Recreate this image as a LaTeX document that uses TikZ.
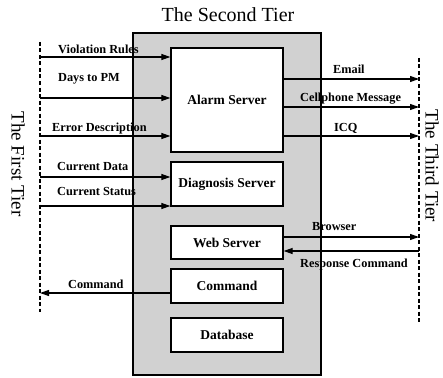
\documentclass[tikz,border=0pt]{standalone}
\usepackage{fontspec}
\setmainfont{Liberation Serif}
\usetikzlibrary{arrows.meta}
\begin{document}
\begin{tikzpicture}[x=1pt,y=-1pt,
  tierbox/.style={draw, line width=1.2pt, fill=black!18, inner sep=0pt},
  server/.style={draw, line width=1.3pt, fill=white, inner sep=0pt,
    minimum width=112pt, font=\fontsize{13.5}{15}\selectfont\bfseries},
  flow/.style={line width=1.1pt, -{Triangle[length=9pt,width=6pt]}},
  lbl/.style={font=\fontsize{12.3}{13}\selectfont\bfseries, anchor=west, inner sep=0pt},
  tierline/.style={line width=1.4pt, dash pattern=on 4pt off 2.5pt},
  tiername/.style={font=\fontsize{20}{22}\selectfont, inner sep=0pt},
  sidename/.style={font=\fontsize{19}{21}\selectfont, inner sep=0pt, rotate=-90}]
\useasboundingbox (0,0) rectangle (443,377);

% middle tier and its servers
\node[tierbox, minimum width=188pt, minimum height=342pt] (tier2) at (227,204) {};
\node[server, minimum height=104pt] (alarm) at (227,100) {Alarm Server};
\node[server, minimum height=44pt] (diag) at (227,184) {Diagnosis Server};
\node[server, minimum height=33pt] (web) at (227,242.5) {Web Server};
\node[server, minimum height=34pt] (cmd) at (227,286) {Command};
\node[server, minimum height=34pt] (db) at (227,335) {Database};

% tier names
\node[tiername] (t2) at (228,15) {The Second Tier};
\node[sidename] (t1) at (18,164) {The First Tier};
\node[sidename] (t3) at (432,166) {The Third Tier};

% tier boundaries
\coordinate (l1) at (40,42);
\coordinate (l2) at (40,312);
\coordinate (r1) at (419,58);
\coordinate (r2) at (419,323);
\draw[tierline] (l1) -- (l2);
\draw[tierline] (r1) -- (r2);

% first tier -> servers
\coordinate (vr) at (40,57);
\coordinate (dp) at (40,98);
\coordinate (ed) at (40,136);
\coordinate (cd) at (40,177);
\coordinate (cs) at (40,206);
\draw[flow] (vr) -- (vr -| alarm.west);
\draw[flow] (dp) -- (dp -| alarm.west);
\draw[flow] (ed) -- (ed -| alarm.west);
\draw[flow] (cd) -- (cd -| diag.west);
\draw[flow] (cs) -- (cs -| diag.west);
\node[lbl] (vrl) at (58,49) {Violation Rules};
\node[lbl] (dpl) at (58,79) {Days to PM};
\node[lbl] (edl) at (52,129) {Error Description};
\node[lbl] (cdl) at (57,167) {Current Data};
\node[lbl] (csl) at (57,192) {Current Status};

% servers -> third tier
\coordinate (em) at (419,79);
\coordinate (cm) at (419,107);
\coordinate (iq) at (419,136);
\coordinate (br) at (419,237);
\coordinate (rc) at (419,251);
\draw[flow] (em -| alarm.east) -- (em);
\draw[flow] (cm -| alarm.east) -- (cm);
\draw[flow] (iq -| alarm.east) -- (iq);
\draw[flow] (br -| web.east) -- (br);
\draw[flow] (rc) -- (rc -| web.east);
\node[lbl] (eml) at (333,69) {Email};
\node[lbl] (cml) at (300,99) {Cellphone Message};
\node[lbl] (iql) at (334,128) {ICQ};
\node[lbl] (brl) at (312,227) {Browser};
\node[lbl] (rcl) at (300,265) {Response Command};

% command back to the first tier
\coordinate (co) at (40,293);
\draw[flow] (co -| cmd.west) -- (co);
\node[lbl] (col) at (68,284) {Command};
\end{tikzpicture}
\end{document}
